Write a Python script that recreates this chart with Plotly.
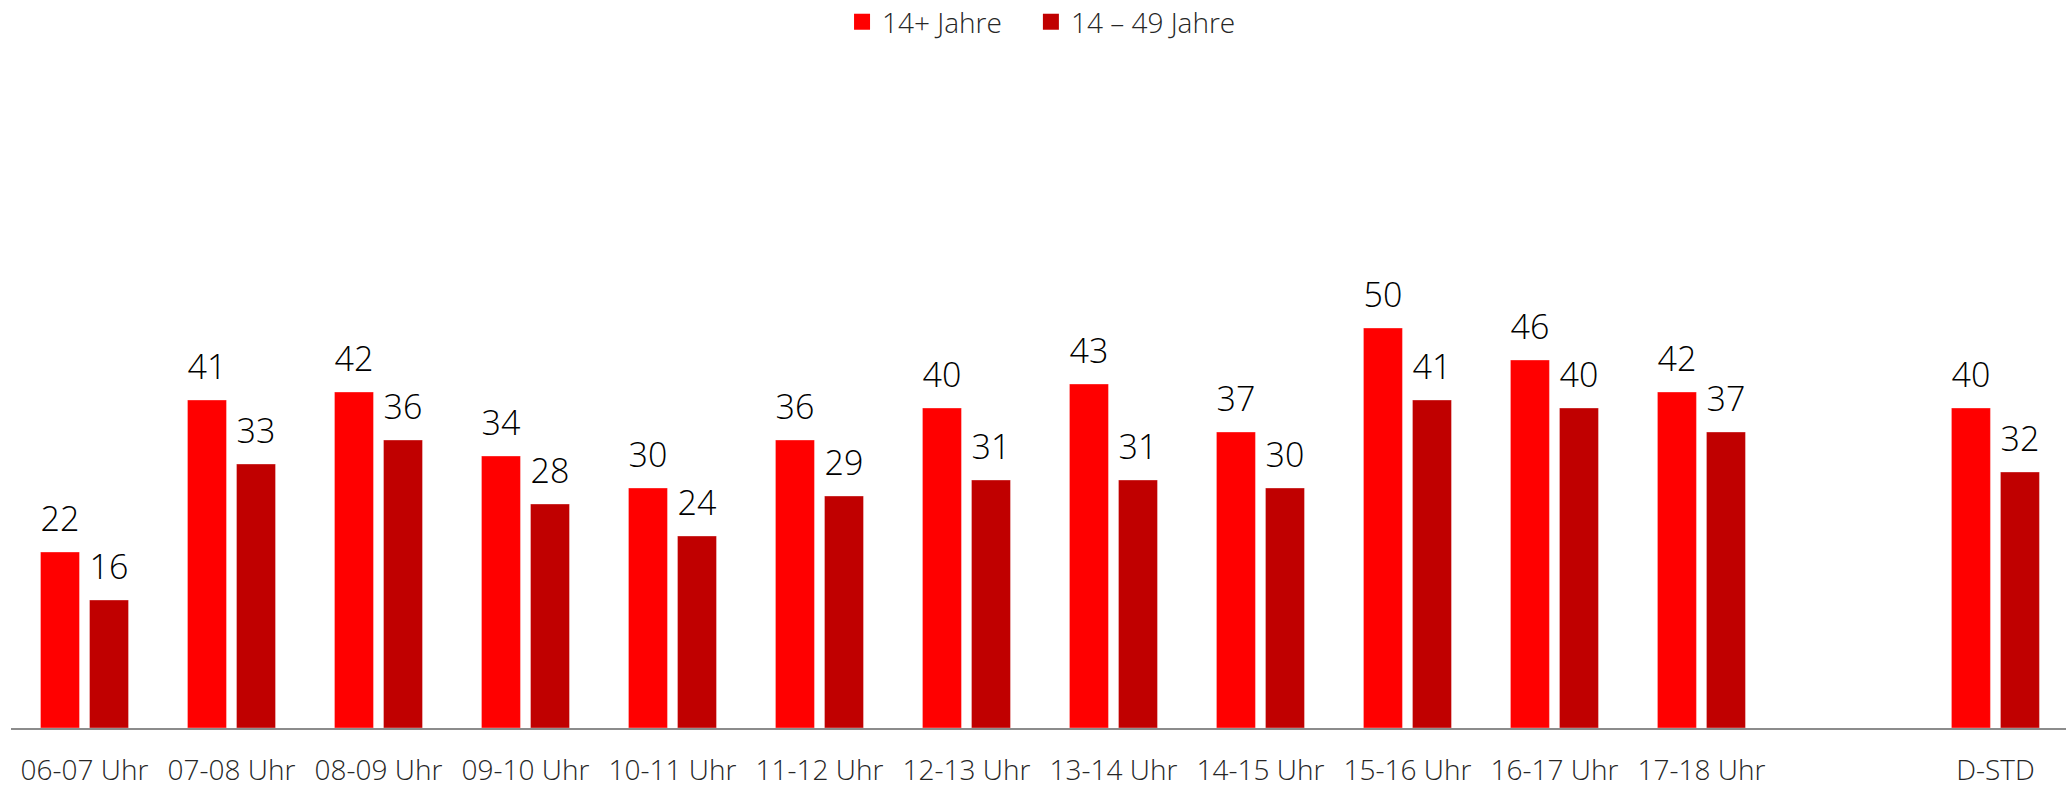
import plotly.graph_objects as go

categories = ["06-07 Uhr", "07-08 Uhr", "08-09 Uhr", "09-10 Uhr", "10-11 Uhr", "11-12 Uhr",
              "12-13 Uhr", "13-14 Uhr", "14-15 Uhr", "15-16 Uhr", "16-17 Uhr", "17-18 Uhr",
              " ", "D-STD"]
series_names = ["14+ Jahre", "14 – 49 Jahre"]
values_14plus = [22, 41, 42, 34, 30, 36, 40, 43, 37, 50, 46, 42, None, 40]
values_14_49 = [16, 33, 36, 28, 24, 29, 31, 31, 30, 41, 40, 37, None, 32]
colors = ["#FF0000", "#C00000"]
legend_ids = ["legend", "legend2"]

FONT = "Open Sans"

fig = go.Figure()
for name, vals, col in zip(series_names, [values_14plus, values_14_49], colors):
    fig.add_trace(go.Bar(
        x=categories, y=vals, name=name,
        marker=dict(color=col, line=dict(color="rgba(255,255,255,0.35)", width=1)),
        showlegend=False,
    ))
for name, vals, col in zip(series_names, [values_14plus, values_14_49], colors):
    # value labels, grouped like the bars
    fig.add_trace(go.Scatter(
        x=categories, y=vals, name=name, mode="markers+text",
        marker=dict(size=18, color="rgba(0,0,0,0)"),
        text=[("" if v is None else str(v)) for v in vals],
        textposition="top center",
        textfont=dict(family=FONT, size=34, color="#000000", weight=300),
        cliponaxis=False, showlegend=False, hoverinfo="skip",
    ))
for name, col, lg in zip(series_names, colors, legend_ids):
    # legend proxy (on hidden overlay axes so it does not join the grouping)
    fig.add_trace(go.Scatter(
        x=[None], y=[None], mode="markers", name=name, xaxis="x2", yaxis="y2",
        marker=dict(symbol="square", size=16, color=col),
        showlegend=True, legend=lg,
    ))

legend_style = dict(orientation="h", xanchor="left", yref="container", y=0.972,
                    yanchor="middle", font=dict(family=FONT, size=28, color="#262626", weight=300),
                    itemsizing="trace", bgcolor="rgba(0,0,0,0)")

fig.update_layout(
    template="none",
    width=2066, height=787,
    margin=dict(l=11, r=0, t=88, b=59, autoexpand=False),
    paper_bgcolor="white", plot_bgcolor="white",
    barmode="group", bargap=0.333, bargroupgap=0.204,
    scattermode="group", scattergap=0.333,
    font=dict(family=FONT, size=28, color="#262626", weight=300),
    legend=dict(x=0.4044, **legend_style),
    legend2=dict(x=0.4963, **legend_style),
    xaxis=dict(type="category", categoryorder="array", categoryarray=categories,
               range=[-0.5, 13.48], showline=True, linecolor="#8C8C8C", linewidth=2,
               showgrid=False, zeroline=False, automargin=False,
               ticks="outside", ticklen=16, tickcolor="rgba(0,0,0,0)",
               tickfont=dict(family=FONT, size=28, color="#262626", weight=300), fixedrange=True),
    yaxis=dict(range=[0, 80], visible=False, showgrid=False, zeroline=False, automargin=False,
               fixedrange=True),
    xaxis2=dict(overlaying="x", visible=False, range=[0, 1]),
    yaxis2=dict(overlaying="y", visible=False, range=[0, 1]),
)

fig.write_html("out.html", config={"displayModeBar": False},
               post_script="document.body.style.margin='0';")
